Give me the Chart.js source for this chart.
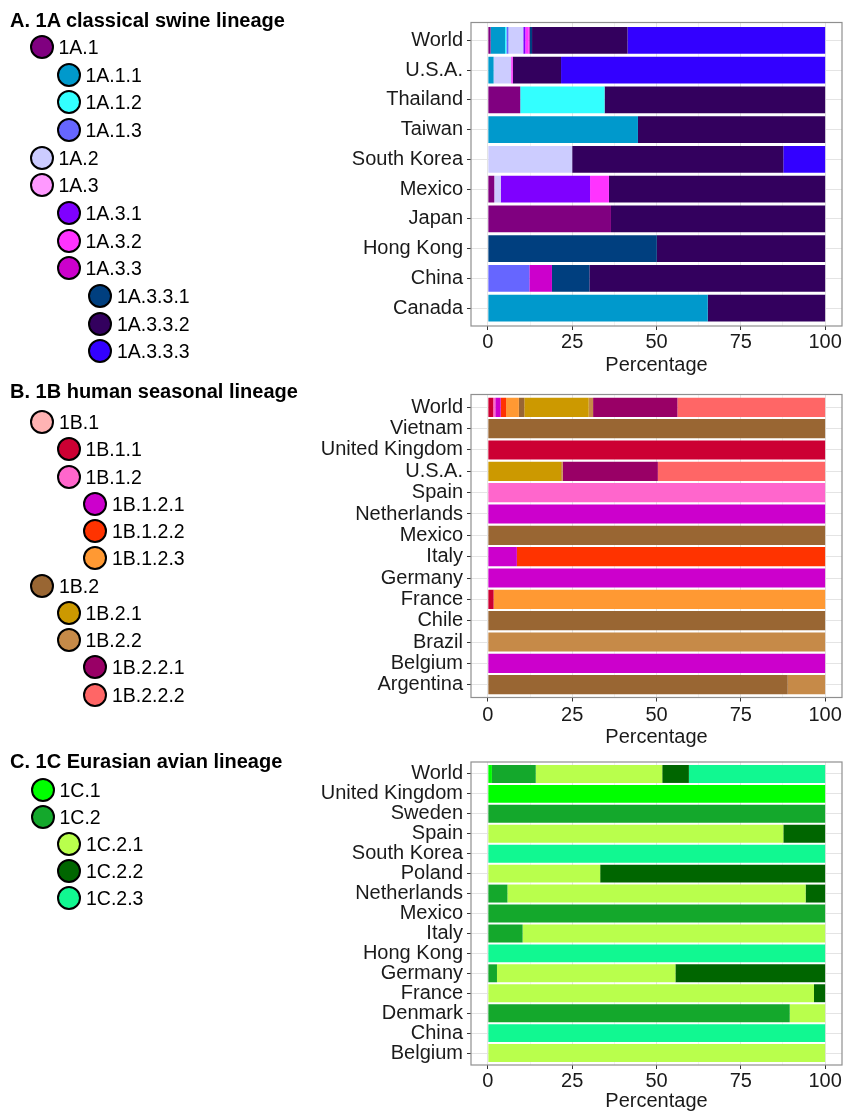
<!DOCTYPE html>
<html><head><meta charset="utf-8">
<script src="https://cdn.jsdelivr.net/npm/chart.js@4"></script>
<style>
html,body{margin:0;padding:0;background:#fff;}
body{width:843px;height:1113px;position:relative;overflow:hidden;font-family:"Liberation Sans",Arial,Helvetica,sans-serif;}
.wrap{position:absolute;left:0;width:843px;}
.t{position:absolute;font-weight:bold;font-size:20px;line-height:20px;color:#000;white-space:nowrap;z-index:3;}
.dot{position:absolute;width:24px;height:24px;border-radius:50%;box-sizing:border-box;border:2px solid #000;z-index:3;}
.lab{position:absolute;font-size:19.5px;line-height:20px;color:#000;white-space:nowrap;z-index:3;}
</style></head><body>
<div class="wrap" style="top:0;height:380px"><canvas id="cA"></canvas></div>
<div class="wrap" style="top:372px;height:380px"><canvas id="cB"></canvas></div>
<div class="wrap" style="top:740px;height:373px"><canvas id="cC"></canvas></div>
<script>
// ---------- data: panel A ----------
const titleA = 'A. 1A classical swine lineage';
const countriesA = ['World','U.S.A.','Thailand','Taiwan','South Korea','Mexico','Japan','Hong Kong','China','Canada'];
const seriesA = ['1A.1','1A.1.1','1A.1.2','1A.1.3','1A.2','1A.3','1A.3.1','1A.3.2','1A.3.3','1A.3.3.1','1A.3.3.2','1A.3.3.3'];
const colorsA = ['#800080','#0099cc','#33ffff','#6666ff','#ccccff','#ff99ff','#7f00ff','#ff33ff','#cc00cc','#003f7f','#33005e','#3300ff'];
const A_1     = [0.8, 0,    9.6,  0,    0,    1.9,  36.5, 0,    0,    0];
const A_1_1   = [4.3, 1.7,  0,    44.5, 0,    0,    0,    0,    0,    65.2];
const A_1_2   = [0.4, 0,    25.0, 0,    0,    0,    0,    0,    0,    0];
const A_1_3   = [0.6, 0,    0,    0,    0,    0,    0,    0,    12.3, 0];
const A_2     = [4.4, 5.2,  0,    0,    25.0, 1.9,  0,    0,    0,    0];
const A_3     = [0,   0,    0,    0,    0,    0,    0,    0,    0,    0];
const A_3_1   = [0.6, 0,    0,    0,    0,    26.5, 0,    0,    0,    0];
const A_3_2   = [1.0, 0.5,  0,    0,    0,    5.6,  0,    0,    0,    0];
const A_3_3   = [0.3, 0,    0,    0,    0,    0,    0,    0,    6.7,  0];
const A_3_3_1 = [0.7, 0,    0,    0,    0,    0,    0,    50.1, 11.1, 0];
const A_3_3_2 = [28.3,14.3, 65.4, 55.5, 62.6, 64.1, 63.5, 49.9, 69.9, 34.8];
const A_3_3_3 = [58.6,78.3, 0,    0,    12.4, 0,    0,    0,    0,    0];

// ---------- data: panel B ----------
const titleB = 'B. 1B human seasonal lineage';
const countriesB = ['World','Vietnam','United Kingdom','U.S.A.','Spain','Netherlands','Mexico','Italy','Germany','France','Chile','Brazil','Belgium','Argentina'];
const seriesB = ['1B.1','1B.1.1','1B.1.2','1B.1.2.1','1B.1.2.2','1B.1.2.3','1B.2','1B.2.1','1B.2.2','1B.2.2.1','1B.2.2.2'];
const colorsB = ['#ffb3b3','#cc0033','#ff66cc','#cc00cc','#ff3300','#ff9933','#996633','#cc9900','#c68a48','#990066','#ff6666'];
const B_1     = [0,    0,   0,   0,    0,   0,   0,   0,    0,   0,    0,   0,   0,   0];
const B_1_1   = [1.6,  0,   100, 0,    0,   0,   0,   0,    0,   1.7,  0,   0,   0,   0];
const B_1_2   = [0.6,  0,   0,   0,    100, 0,   0,   0,    0,   0,    0,   0,   0,   0];
const B_1_2_1 = [1.6,  0,   0,   0,    0,   100, 0,   8.6,  100, 0,    0,   0,   100, 0];
const B_1_2_2 = [1.6,  0,   0,   0,    0,   0,   0,   91.4, 0,   0,    0,   0,   0,   0];
const B_1_2_3 = [3.8,  0,   0,   0,    0,   0,   0,   0,    0,   98.3, 0,   0,   0,   0];
const B_2     = [1.6,  100, 0,   0,    0,   0,   100, 0,    0,   0,    100, 0,   0,   88.9];
const B_2_1   = [19.1, 0,   0,   21.7, 0,   0,   0,   0,    0,   0,    0,   0,   0,   0];
const B_2_2   = [1.3,  0,   0,   0.5,  0,   0,   0,   0,    0,   0,    0,   100, 0,   11.1];
const B_2_2_1 = [25.0, 0,   0,   28.2, 0,   0,   0,   0,    0,   0,    0,   0,   0,   0];
const B_2_2_2 = [43.8, 0,   0,   49.6, 0,   0,   0,   0,    0,   0,    0,   0,   0,   0];

// ---------- data: panel C ----------
const titleC = 'C. 1C Eurasian avian lineage';
const countriesC = ['World','United Kingdom','Sweden','Spain','South Korea','Poland','Netherlands','Mexico','Italy','Hong Kong','Germany','France','Denmark','China','Belgium'];
const seriesC = ['1C.1','1C.2','1C.2.1','1C.2.2','1C.2.3'];
const colorsC = ['#00ff00','#14a82c','#b9ff4c','#006600','#11f891'];
const C_1   = [1.2,  100, 0,   0,    0,   0,    0,    0,   0,    0,   0,    0,    0,    0,   0];
const C_2   = [13.0, 0,   100, 0,    0,   0,    5.8,  100, 10.3, 0,   2.7,  0,    89.5, 0,   0];
const C_2_1 = [37.5, 0,   0,   87.6, 0,   33.3, 88.4, 0,   89.7, 0,   52.9, 96.7, 10.5, 0,   100];
const C_2_2 = [7.9,  0,   0,   12.4, 0,   66.7, 5.8,  0,   0,    0,   44.4, 3.3,  0,    0,   0];
const C_2_3 = [40.4, 0,   0,   0,    100, 0,    0,    0,   0,    100, 0,    0,    0,    100, 0];

// ---------- shared axis ----------
const xTicks = [0, 12.5, 25, 37.5, 50, 62.5, 75, 87.5, 100];
const xTitle = 'Percentage';

const valuesA = [A_1,A_1_1,A_1_2,A_1_3,A_2,A_3,A_3_1,A_3_2,A_3_3,A_3_3_1,A_3_3_2,A_3_3_3];
const valuesB = [B_1,B_1_1,B_1_2,B_1_2_1,B_1_2_2,B_1_2_3,B_2,B_2_1,B_2_2,B_2_2_1,B_2_2_2];
const valuesC = [C_1,C_2,C_2_1,C_2_2,C_2_3];

const FAM = '"Liberation Sans", Arial, Helvetica, sans-serif';
const TXT = '#1a1a1a';

const panelBorder = {
  id: 'panelBorder',
  afterDatasetsDraw(chart) {
    const {ctx, chartArea: a} = chart;
    ctx.save();
    ctx.strokeStyle = '#8f8f8f';
    ctx.lineWidth = 1.2;
    ctx.strokeRect(a.left, a.top, a.right - a.left, a.bottom - a.top);
    ctx.restore();
  }
};

function zeroPad(s) { s.paddingLeft = 0; s.paddingRight = 0; s.paddingTop = 0; s.paddingBottom = 0; }

function makeChart(id, countries, series, colors, values, g) {
  const n = countries.length;
  return new Chart(document.getElementById(id), {
    type: 'bar',
    data: {
      datasets: series.map((name, k) => ({
        label: name,
        data: values[k].map((v, i) => ({x: v, y: i})),
        backgroundColor: colors[k],
        borderWidth: 0,
        categoryPercentage: 1,
        barPercentage: 0.9
      }))
    },
    options: {
      indexAxis: 'y',
      responsive: true,
      maintainAspectRatio: false,
      animation: false,
      layout: {padding: {left: 0, right: 1, top: g.padTop, bottom: 0}},
      plugins: {legend: {display: false}, tooltip: {enabled: false}},
      scales: {
        x: {
          type: 'linear', min: -5, max: 105, stacked: true, offset: false,
          afterBuildTicks: s => { s.ticks = xTicks.map(v => ({value: v})); },
          afterFit: s => { s.height = g.xHeight; zeroPad(s); },
          border: {display: false},
          grid: {
            offset: false,
            color: c => (c.tick && c.tick.value % 25 === 0) ? '#e4e4e4' : '#f2f2f2',
            lineWidth: 1,
            drawTicks: true,
            tickLength: 4,
            tickColor: c => (c.tick && c.tick.value % 25 === 0) ? '#333333' : 'rgba(0,0,0,0)'
          },
          ticks: {
            autoSkip: false, maxRotation: 0, minRotation: 0,
            padding: g.tickPad, color: TXT, font: {family: FAM, size: 20},
            callback: v => (v % 25 === 0) ? String(v) : ''
          },
          title: {display: true, text: xTitle, color: TXT, font: {family: FAM, size: 20},
                  padding: {top: 0, bottom: g.titlePad}}
        },
        y: {
          type: 'linear', min: -0.6, max: n - 0.4, reverse: true, stacked: true, offset: false,
          afterBuildTicks: s => { s.ticks = countries.map((c, i) => ({value: i})); },
          afterFit: s => { s.width = 471; zeroPad(s); },
          border: {display: false},
          grid: {offset: false, color: '#e4e4e4', lineWidth: 1, drawTicks: true, tickLength: 4, tickColor: '#333333'},
          ticks: {
            autoSkip: false, padding: 4, color: TXT, font: {family: FAM, size: 20},
            callback: v => countries[v]
          }
        }
      }
    },
    plugins: [panelBorder]
  });
}

makeChart('cA', countriesA, seriesA, colorsA, valuesA, {padTop: 22.5, xHeight: 54,   tickPad: 0,   titlePad: 3});
makeChart('cB', countriesB, seriesB, colorsB, valuesB, {padTop: 22.5, xHeight: 54.5, tickPad: 1.5, titlePad: 3});
makeChart('cC', countriesC, seriesC, colorsC, valuesC, {padTop: 22,   xHeight: 48,   tickPad: 0,   titlePad: 0});

// ---------- legend trees (HTML text) ----------
function legend(title, series, colors, L) {
  const t = document.createElement('div');
  t.className = 't';
  t.textContent = title;
  t.style.left = '10px';
  t.style.top = (L.titleY - 10) + 'px';
  document.body.appendChild(t);
  series.forEach((name, i) => {
    const level = name.split('.').length - 1;
    const cx = L.levelX[level - 1];
    const cy = L.y0 + L.dy * i;
    const d = document.createElement('div');
    d.className = 'dot';
    d.style.background = colors[i];
    d.style.left = (cx - 12) + 'px';
    d.style.top = (cy - 12) + 'px';
    document.body.appendChild(d);
    const s = document.createElement('div');
    s.className = 'lab';
    s.textContent = name;
    s.style.left = (cx + 17) + 'px';
    s.style.top = (cy - 10) + 'px';
    document.body.appendChild(s);
  });
}
legend(titleA, seriesA, colorsA, {titleY: 20,  y0: 47,  dy: 27.65, levelX: [41.5, 68.5, 100]});
legend(titleB, seriesB, colorsB, {titleY: 391, y0: 422, dy: 27.25, levelX: [42, 68.5, 95]});
legend(titleC, seriesC, colorsC, {titleY: 761, y0: 790, dy: 27,    levelX: [42.5, 69, 95]});
</script>
</body></html>
